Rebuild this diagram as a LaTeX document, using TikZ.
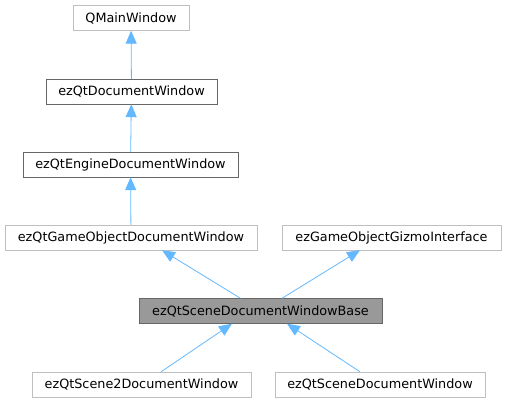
\documentclass[tikz,border=0pt]{standalone}
\usepackage{fontspec}
\setmainfont{DejaVu Sans}
\usetikzlibrary{arrows.meta}
\definecolor{edgeblue}{HTML}{63B8FF}
\definecolor{darkframe}{HTML}{666666}
\definecolor{lightframe}{HTML}{BFBFBF}
\definecolor{basefill}{HTML}{999999}
\begin{document}
\begin{tikzpicture}[x=1pt,y=-1pt,
  cls/.style={draw=darkframe,fill=white,minimum height=25pt,inner sep=0pt,font=\fontsize{12.8}{15}\selectfont},
  ext/.style={cls,draw=lightframe},
  cur/.style={cls,fill=basefill},
  inh/.style={draw=edgeblue,line width=0.8pt,-{Triangle[length=13pt,width=11pt]}}]
\useasboundingbox (0,0) rectangle (506,403);
\node[ext,minimum width=116pt] (qmw) at (131,18) {QMainWindow};
\node[cls,minimum width=171pt] (docwin) at (131.5,91.5) {ezQtDocumentWindow};
\node[cls,minimum width=215pt] (engwin) at (130.5,164.5) {ezQtEngineDocumentWindow};
\node[ext,minimum width=252pt] (gowin) at (131,237.5) {ezQtGameObjectDocumentWindow};
\node[ext,minimum width=219pt] (gizmo) at (391.5,237.5) {ezGameObjectGizmoInterface};
\node[cur,minimum width=243pt] (base) at (260.5,311) {ezQtSceneDocumentWindowBase};
\node[ext,minimum width=219pt] (scene2) at (141.5,384.5) {ezQtScene2DocumentWindow};
\node[ext,minimum width=210pt] (scene) at (380,384.5) {ezQtSceneDocumentWindow};

\path[inh] (docwin) -- (qmw);
\path[inh] (engwin) -- (docwin);
\path[inh] (gowin) -- (engwin);
\path[inh] ([xshift=-20pt]base.north) -- ([xshift=31pt]gowin.south);
\path[inh] ([xshift=21.5pt]base.north) -- ([xshift=-31.5pt]gizmo.south);
\path[inh] ([xshift=19.5pt]scene2.north) -- ([xshift=-28.5pt]base.south);
\path[inh] ([xshift=-20pt]scene.north) -- ([xshift=26.5pt]base.south);
\end{tikzpicture}
\end{document}
